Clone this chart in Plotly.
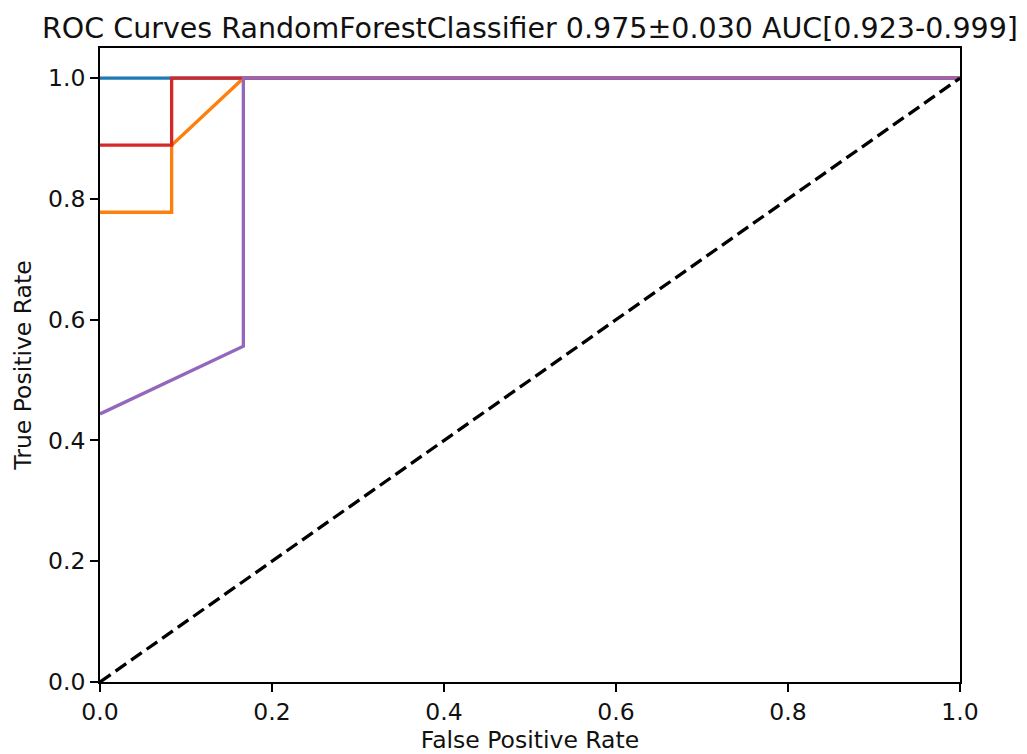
import plotly.graph_objects as go

# ROC curves per fold (FPR, TPR)
fold_names = ["Fold 1", "Fold 2", "Fold 3", "Fold 4"]
fold_colors = ["#1f77b4", "#ff7f0e", "#d62728", "#9467bd"]
fold_fpr = [
    [0.0, 1.0],
    [0.0, 0.0833, 0.0833, 0.1667, 1.0],
    [0.0, 0.0833, 0.0833, 1.0],
    [0.0, 0.1667, 0.1667, 1.0],
]
fold_tpr = [
    [1.0, 1.0],
    [0.778, 0.778, 0.889, 1.0, 1.0],
    [0.889, 0.889, 1.0, 1.0],
    [0.444, 0.556, 1.0, 1.0],
]
chance_x = [0.0, 1.0]
chance_y = [0.0, 1.0]
tick_vals = [0.0, 0.2, 0.4, 0.6, 0.8, 1.0]
tick_text = ["0.0", "0.2", "0.4", "0.6", "0.8", "1.0"]
title_text = "ROC Curves RandomForestClassifier 0.975±0.030 AUC[0.923-0.999]"

W, H = 1019, 746  # page body has an 8px margin
L, R, T, B = 92, 67, 40, 72

fig = go.Figure()
for name, color, xs, ys in zip(fold_names, fold_colors, fold_fpr, fold_tpr):
    fig.add_trace(go.Scatter(x=xs, y=ys, mode="lines", name=name,
                             line=dict(color=color, width=3.3)))
fig.add_trace(go.Scatter(x=chance_x, y=chance_y, mode="lines", name="Chance",
                         line=dict(color="black", width=3.3, dash="13px,6px")))

font_main = dict(family="DejaVu Sans", size=23.5, color="#111111")
axis_common = dict(
    showgrid=False, zeroline=False, showline=True, linecolor="black", linewidth=1.8,
    mirror=True, ticks="outside", ticklen=8, tickwidth=1.8, tickcolor="black",
    tickvals=tick_vals, ticktext=tick_text, tickfont=font_main, automargin=False,
)
fig.update_xaxes(range=[0, 1], title=dict(text="False Positive Rate", standoff=4,
                 font=font_main), **axis_common)
fig.update_yaxes(range=[0, 1.05], title=dict(text="True Positive Rate", standoff=10,
                 font=font_main), **axis_common)

fig.update_layout(
    width=W, height=H,
    margin=dict(l=L, r=R, t=T, b=B),
    paper_bgcolor="white", plot_bgcolor="white",
    showlegend=False,
    title=dict(text=title_text, x=(L + (W - R)) / 2 / W, xanchor="center",
               y=1 - 20 / H, yanchor="middle",
               font=dict(family="DejaVu Sans", size=28.5, color="#111111")),
)
fig.write_html("out.html")
